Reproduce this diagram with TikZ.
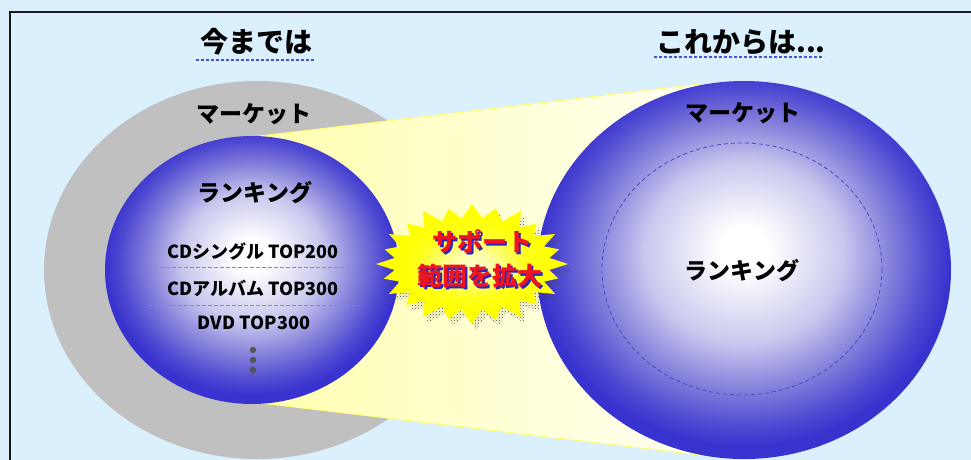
\documentclass[tikz,border=0pt]{standalone}
\usepackage{fontspec}
\setmainfont{Noto Sans CJK JP}
\usetikzlibrary{patterns}
\definecolor{bg}{RGB}{219,240,253}
\definecolor{marketgray}{RGB}{192,192,192}
\definecolor{ballmid}{RGB}{200,200,238}
\definecolor{balldeep}{RGB}{130,125,218}
\definecolor{balldeeper}{RGB}{78,72,210}
\definecolor{balledge}{RGB}{56,50,206}
\definecolor{beamL}{RGB}{255,255,175}
\definecolor{beamR}{RGB}{255,255,242}
\definecolor{beamedge}{RGB}{255,255,120}
\definecolor{ulblue}{RGB}{70,80,220}
\definecolor{dashcol}{RGB}{70,70,200}
\definecolor{starred}{RGB}{240,20,30}
\definecolor{starshadow}{RGB}{40,40,190}
\definecolor{dotgray}{RGB}{85,85,85}
\pgfdeclareradialshading{blueball}{\pgfpoint{0bp}{3bp}}{color(0bp)=(white); color(3bp)=(white); color(12bp)=(ballmid); color(18bp)=(balldeep); color(22.5bp)=(balldeeper); color(25bp)=(balledge); color(50bp)=(balledge)}
\pgfdeclareradialshading{starshade}{\pgfpoint{0bp}{0bp}}{color(0bp)=(white!80!yellow); color(5bp)=(white!65!yellow); color(14bp)=(yellow!90!white); color(20bp)=(yellow); color(50bp)=(yellow)}
\newcommand\shadowtext[1]{\leavevmode\rlap{\kern2pt\raisebox{-2pt}{\color{starshadow}#1}}{\color{starred}#1}}
\tikzset{
  title/.style={font=\bfseries\fontsize{28}{30}\selectfont, inner sep=0pt},
  label/.style={font=\bfseries\fontsize{23}{25}\selectfont, inner sep=0pt},
  item/.style={font=\bfseries\fontsize{18}{20}\selectfont, inner sep=0pt},
  bursttext/.style={font=\bfseries\fontsize{25}{27}\selectfont, inner sep=0pt},
  uline/.style={ulblue, line width=1.2pt, dash pattern=on 3pt off 2pt},
  sep/.style={gray!90, line width=1pt, dash pattern=on 4pt off 2pt},
}
\begin{document}
\begin{tikzpicture}[x=1pt,y=-1pt]
\useasboundingbox (0,0) rectangle (971,460);
\fill[bg] (0,0) rectangle (971,460);
\draw[line width=2pt, black!90] (10,475) -- (10,12) -- (985,12);
% left market
\fill[marketgray] (257,270) ellipse (213 and 189);
% beam
\shadedraw[left color=beamL, right color=beamR, draw=beamedge, line width=1pt]
  (260,136) -- (700,84) -- (700,455) -- (260,403) -- cycle;
% balls
\shade[shading=blueball] (252,270) ellipse (147 and 134);
\shade[shading=blueball] (744,270) ellipse (207 and 189);
\draw[dashcol, line width=0.8pt, dash pattern=on 4pt off 3pt] (742,269) ellipse (140 and 126);
% starburst shadow
\begin{scope}[shift={(476,270)}]
  \fill[pattern=crosshatch dots, pattern color=black!75]
    (0:96 and 60)
    \foreach \a/\f in {15/0.93,30/1.0,45/0.95,60/1.02,75/0.96,90/1.0,105/0.95,120/1.02,135/0.97,150/1.0,165/0.95,180/1.0,195/0.94,210/1.0,225/0.96,240/1.02,255/0.95,270/1.0,285/0.96,300/1.02,315/0.95,330/1.0,345/0.94}
      { -- ({\a-7.5}:78 and 46) -- (\a:{96*\f} and {60*\f}) } -- (352.5:78 and 46) -- cycle;
\end{scope}
% starburst
\begin{scope}[shift={(472,264)}]
  \shade[shading=starshade]
    (0:96 and 60)
    \foreach \a/\f in {15/0.93,30/1.0,45/0.95,60/1.02,75/0.96,90/1.0,105/0.95,120/1.02,135/0.97,150/1.0,165/0.95,180/1.0,195/0.94,210/1.0,225/0.96,240/1.02,255/0.95,270/1.0,285/0.96,300/1.02,315/0.95,330/1.0,345/0.94}
      { -- ({\a-7.5}:78 and 46) -- (\a:{96*\f} and {60*\f}) } -- (352.5:78 and 46) -- cycle;
\end{scope}
% titles
\node[title] (t1) at (256,42) {今までは};
\draw[uline] (196,60) -- (314,60);
\node[title] (t2) at (741,42) {これからは...};
\draw[uline] (654,57) -- (824,57);
% labels
\node[label] (m1) at (254,114) {マーケット};
\node[label] (r1) at (255,193) {ランキング};
\node[item] (i1) at (253,251) {CDシングル TOP200};
\draw[sep] (148,267) -- (360,267);
\node[item] (i2) at (253,288) {CDアルバム TOP300};
\draw[sep] (148,305) -- (360,305);
\node[item] (i3) at (254,323) {DVD TOP300};
\fill[dotgray] (253,350) circle (3.2) (253,360) circle (3.2) (253,370) circle (3.2);
\node[label] (m2) at (743,113) {マーケット};
\node[label] (r2) at (742,271) {ランキング};
% burst text
\node[bursttext] (s1) at (482,242) {\shadowtext{サポート}};
\node[bursttext] (s2) at (480,277) {\shadowtext{範囲を拡大}};
\end{tikzpicture}
\end{document}
